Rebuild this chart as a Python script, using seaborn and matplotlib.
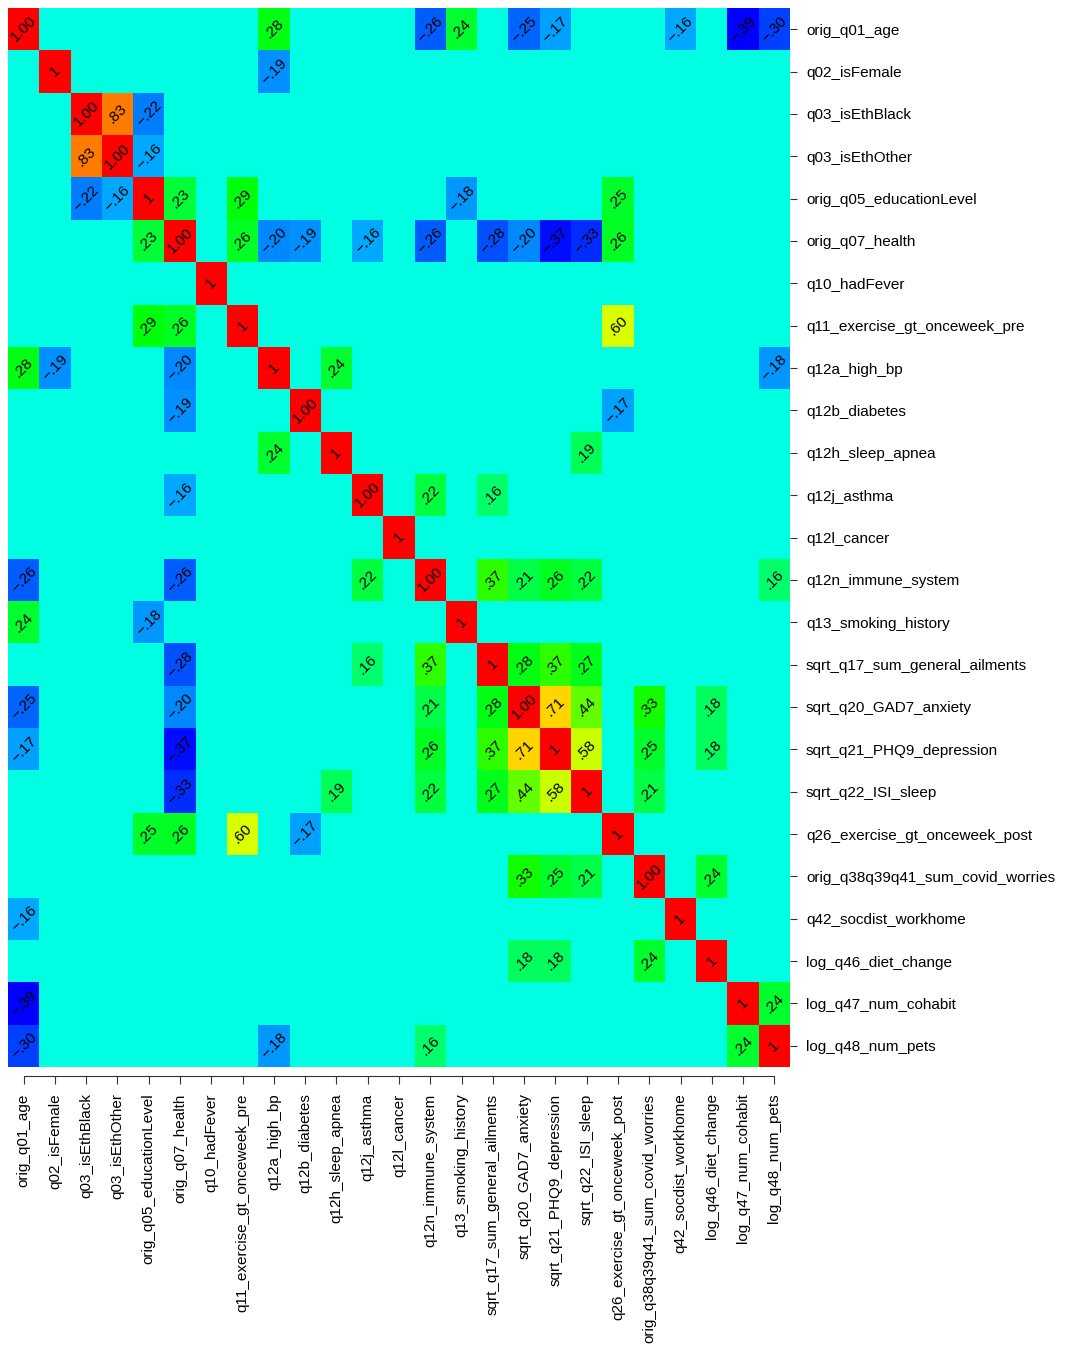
import colorsys
import numpy as np
import pandas as pd
import matplotlib
matplotlib.use("Agg")
import matplotlib.pyplot as plt
from matplotlib.colors import ListedColormap
import seaborn as sns

plt.rcParams['font.family'] = ['Liberation Sans', 'DejaVu Sans']

variables = [
    "orig_q01_age", "q02_isFemale", "q03_isEthBlack", "q03_isEthOther",
    "orig_q05_educationLevel", "orig_q07_health", "q10_hadFever",
    "q11_exercise_gt_onceweek_pre", "q12a_high_bp", "q12b_diabetes",
    "q12h_sleep_apnea", "q12j_asthma", "q12l_cancer", "q12n_immune_system",
    "q13_smoking_history", "sqrt_q17_sum_general_ailments",
    "sqrt_q20_GAD7_anxiety", "sqrt_q21_PHQ9_depression", "sqrt_q22_ISI_sleep",
    "q26_exercise_gt_onceweek_post", "orig_q38q39q41_sum_covid_worries",
    "q42_socdist_workhome", "log_q46_diet_change", "log_q47_num_cohabit",
    "log_q48_num_pets",
]

# significant correlations (upper triangle), others shown as 0
row_idx = [0, 0, 0, 0, 0, 0, 0, 0,
           1,
           2, 2,
           3,
           4, 4, 4, 4,
           5, 5, 5, 5, 5, 5, 5, 5, 5, 5,
           7,
           8, 8,
           9,
           10,
           11, 11,
           13, 13, 13, 13, 13,
           15, 15, 15,
           16, 16, 16, 16,
           17, 17, 17,
           18,
           20,
           23]
col_idx = [8, 13, 14, 16, 17, 21, 23, 24,
           8,
           3, 4,
           4,
           5, 7, 14, 19,
           7, 8, 9, 11, 13, 15, 16, 17, 18, 19,
           19,
           10, 24,
           19,
           18,
           13, 15,
           15, 16, 17, 18, 24,
           16, 17, 18,
           17, 18, 20, 22,
           18, 20, 22,
           20,
           22,
           24]
r_vals = [.28, -.26, .24, -.25, -.17, -.16, -.39, -.30,
          -.19,
          .83, -.22,
          -.16,
          .23, .29, -.18, .25,
          .26, -.20, -.19, -.16, -.26, -.28, -.20, -.37, -.33, .26,
          .60,
          .24, -.18,
          -.17,
          .19,
          .22, .16,
          .37, .21, .26, .22, .16,
          .28, .37, .27,
          .71, .44, .33, .18,
          .58, .25, .18,
          .21,
          .24,
          .24]

# printed diagonal labels
diag_labels = ["1.00", "1", "1.00", "1.00", "1", "1.00", "1", "1", "1",
               "1.00", "1", "1.00", "1", "1.00", "1", "1", "1.00", "1",
               "1", "1", "1.00", "1", "1", "1", "1"]

n = len(variables)
corr = np.zeros((n, n))
np.fill_diagonal(corr, 1.0)
labels = np.full((n, n), "", dtype=object)
for i, j, r in zip(row_idx, col_idx, r_vals):
    corr[i, j] = corr[j, i] = r
    txt = f"{abs(r):.2f}".lstrip("0")
    if r < 0:
        txt = "\u2212" + txt
    labels[i, j] = labels[j, i] = txt
for k, t in enumerate(diag_labels):
    labels[k, k] = t

df = pd.DataFrame(corr, index=variables, columns=variables)

# rainbow palette: blue (min) -> red (max)
hues = np.linspace(240, 0, 256) / 360
cmap = ListedColormap([colorsys.hsv_to_rgb(h, 1, 1) for h in hues])

fig = plt.figure(figsize=(10.66, 13.53), dpi=100)
ax = fig.add_axes([8 / 1066, 1 - 1067 / 1353, 782 / 1066, 1059 / 1353])
sns.heatmap(df, ax=ax, cmap=cmap, vmin=min(r_vals), vmax=1.0, cbar=False,
            annot=labels, fmt="",
            annot_kws=dict(rotation=45, fontsize=11, color="black"),
            xticklabels=True, yticklabels=True)

ax.yaxis.tick_right()
ax.tick_params(axis="y", length=5, pad=6.5, labelsize=11, color="#333333",
               labelrotation=0)
ax.tick_params(axis="x", length=6, pad=6.5, labelsize=11, color="#333333",
               labelrotation=90)
for lab in ax.get_xticklabels():
    lab.set_rotation(90)
    lab.set_ha("center")
    lab.set_va("top")

for s in ax.spines.values():
    s.set_visible(False)
ax.spines["bottom"].set_visible(True)
ax.spines["bottom"].set_position(("outward", 6.5))
ax.spines["bottom"].set_bounds(0.5, n - 0.5)
ax.spines["bottom"].set_color("#333333")

fig.savefig("out.png", dpi=100)
